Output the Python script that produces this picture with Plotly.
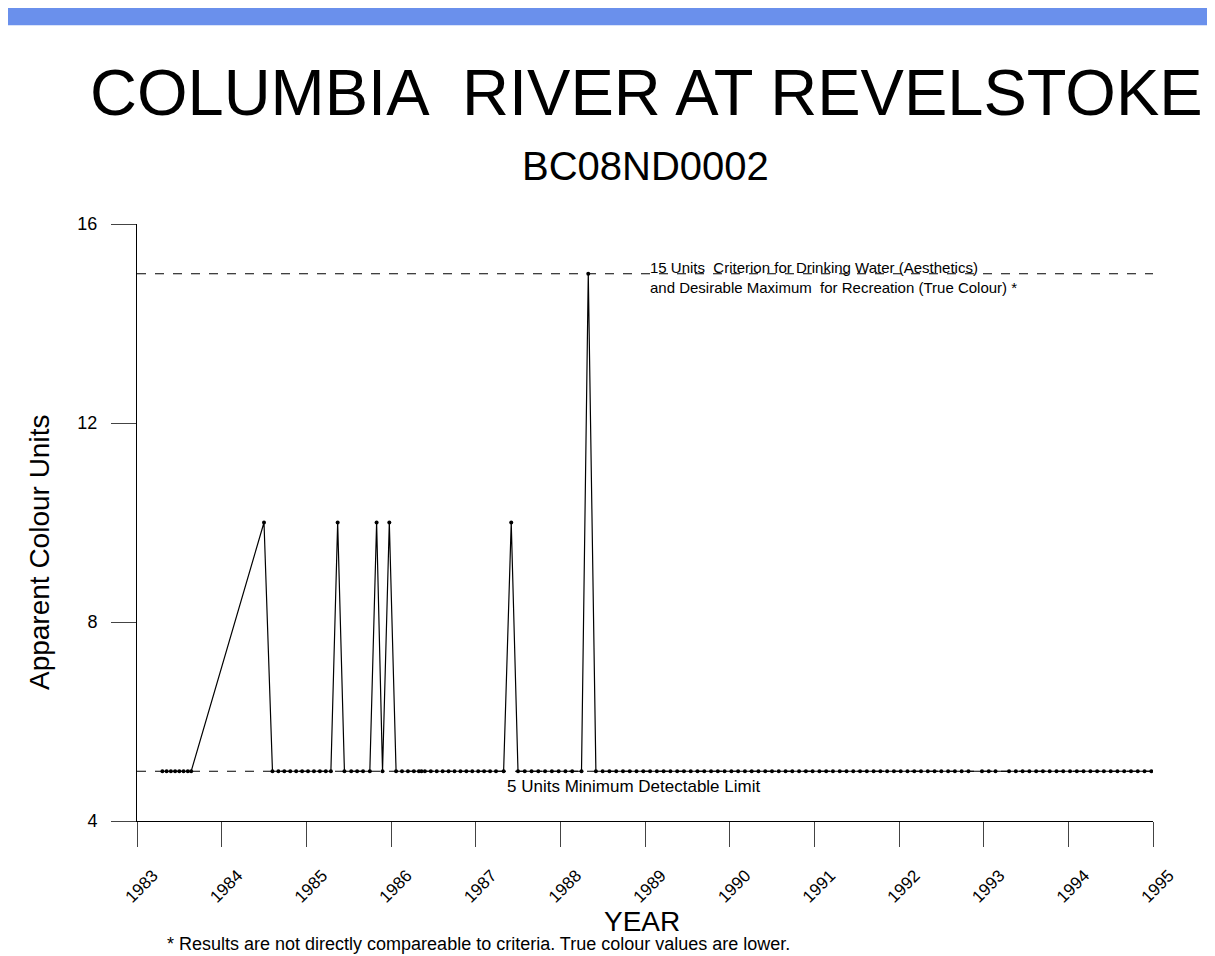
import plotly.graph_objects as go

# sample dates (decimal years) and apparent colour (units)
years = [
    1983.30, 1983.35, 1983.40, 1983.45, 1983.50, 1983.55, 1983.60, 1983.64,
    1984.50,
    1984.60, 1984.67, 1984.74, 1984.81, 1984.88, 1984.95, 1985.02, 1985.09, 1985.16, 1985.23, 1985.29,
    1985.37,
    1985.45, 1985.53, 1985.60, 1985.67, 1985.75,
    1985.83,
    1985.90,
    1985.98,
    1986.06, 1986.13, 1986.20, 1986.27, 1986.33, 1986.36, 1986.40, 1986.47, 1986.54, 1986.61,
    1986.68, 1986.75, 1986.82, 1986.89, 1986.96, 1987.03, 1987.10, 1987.17, 1987.24, 1987.33,
    1987.42,
    1987.50, 1987.58, 1987.66, 1987.74, 1987.82, 1987.90, 1987.98, 1988.06, 1988.14, 1988.25,
    1988.33,
    1988.42, 1988.50, 1988.58, 1988.66, 1988.74, 1988.82, 1988.90, 1988.98, 1989.06, 1989.14,
    1989.22, 1989.30, 1989.38, 1989.46, 1989.54, 1989.62, 1989.70, 1989.78, 1989.86, 1989.94,
    1990.02, 1990.10, 1990.18, 1990.26, 1990.34, 1990.42, 1990.50, 1990.58, 1990.66, 1990.74,
    1990.82, 1990.90, 1990.98, 1991.06, 1991.14, 1991.22, 1991.30, 1991.38, 1991.46, 1991.54,
    1991.62, 1991.70, 1991.78, 1991.86, 1991.94, 1992.02, 1992.10, 1992.18, 1992.26, 1992.34,
    1992.42, 1992.50, 1992.58, 1992.66, 1992.74, 1992.82, 1992.98, 1993.06, 1993.14, 1993.30,
    1993.38, 1993.46, 1993.54, 1993.62, 1993.70, 1993.78, 1993.86, 1993.94, 1994.02, 1994.10,
    1994.18, 1994.26, 1994.34, 1994.42, 1994.50, 1994.58, 1994.66, 1994.74, 1994.82, 1994.90,
    1994.98,
]
colour = [5] * 8 + [10] + [5] * 11 + [10] + [5] * 5 + [10] + [5] + [10] + [5] * 20 + [10] + [5] * 10 + [15]
colour += [5] * (len(years) - len(colour))

year_ticks = list(range(1983, 1996))
y_ticks = [4, 8, 12, 16]
drinking_limit = 15
detect_limit = 5

font = "Liberation Sans, Arial, sans-serif"

fig = go.Figure()
fig.add_trace(go.Scatter(
    x=years, y=colour, mode="lines+markers",
    line=dict(color="black", width=1.2),
    marker=dict(color="black", size=4),
    hoverinfo="x+y", showlegend=False,
))
for lim in (drinking_limit, detect_limit):
    fig.add_trace(go.Scatter(
        x=[year_ticks[0], year_ticks[-1]], y=[lim, lim], mode="lines",
        line=dict(color="black", width=1, dash="dash"), showlegend=False,
    ))

# blue banner across the top
fig.add_shape(type="rect", xref="paper", yref="paper", x0=-0.14, x1=1.07,
              y0=1.333, y1=1.365, fillcolor="#6a90ec", line_width=0, layer="below")

fig.add_annotation(text="COLUMBIA  RIVER AT REVELSTOKE", xref="paper", yref="paper",
                   x=0.501, y=1.221, yanchor="middle", showarrow=False,
                   font=dict(family=font, size=65, color="black"))
fig.add_annotation(text="BC08ND0002", xref="paper", yref="paper",
                   x=0.5, y=1.097, yanchor="middle", showarrow=False,
                   font=dict(family=font, size=40, color="black"))
fig.add_annotation(text="15 Units  Criterion for Drinking Water (Aesthetics)<br>and Desirable Maximum  for Recreation (True Colour) *",
                   x=1989.03, y=14.92, xanchor="left", align="left", showarrow=False,
                   font=dict(family=font, size=15, color="black"))
fig.add_annotation(text="5 Units Minimum Detectable Limit", x=1987.35, y=4.7, xanchor="left",
                   showarrow=False, font=dict(family=font, size=17, color="black"))
fig.add_annotation(text="Apparent Colour Units", xref="paper", yref="paper", x=-0.113, y=0.45,
                   textangle=-90, showarrow=False, font=dict(family=font, size=28, color="black"))
fig.add_annotation(text="YEAR", xref="paper", yref="paper", x=0.497, y=-0.169, yanchor="middle",
                   showarrow=False, font=dict(family=font, size=28, color="black"))
fig.add_annotation(text="* Results are not directly compareable to criteria. True colour values are lower.",
                   xref="paper", yref="paper", x=0.028, y=-0.206, xanchor="left", yanchor="middle",
                   showarrow=False, font=dict(family=font, size=18, color="black"))

fig.update_layout(
    width=1215, height=956,
    margin=dict(l=129, r=70, t=216, b=143, autoexpand=False),
    paper_bgcolor="white", plot_bgcolor="white",
    font=dict(family=font, color="black"),
    xaxis=dict(range=[1983, 1995], tickvals=year_ticks, tickangle=-45,
               ticks="outside", ticklen=25, showline=True, linecolor="black",
               ticklabelstandoff=12, ticklabelshift=16,
               showgrid=False, zeroline=False, tickfont=dict(size=17)),
    yaxis=dict(range=[4, 16], tickvals=y_ticks, ticks="outside", ticklen=25,
               showline=True, linecolor="black", showgrid=False, zeroline=False,
               ticklabelstandoff=10, tickfont=dict(size=18)),
)

fig.write_html("out.html")
